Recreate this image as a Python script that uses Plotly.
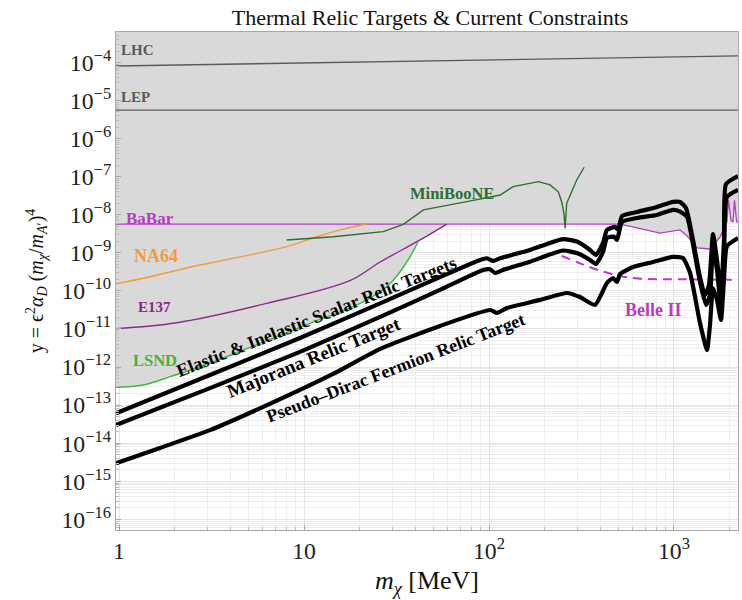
import plotly.graph_objects as go

# ---------------- thermal relic targets (m_chi in MeV) ----------------
scalar_m = [0.963, 3.10, 9.51, 25.8, 54.3, 89.4, 97.5, 105.1, 114.7, 166.6, 251, 303, 351.6, 378.7,
            413.3, 434, 480, 498, 524, 631, 809, 988, 1078, 1161, 1267, 1382, 1471, 1546, 1625,
            1708, 1795, 1863, 1910, 2218]
scalar_y = [6.1e-14, 6.2e-13, 5.8e-12, 4.7e-11, 2.3e-10, 6.5e-10, 7.2e-10, 6.1e-10, 7.2e-10, 1.19e-9,
            2.3e-9, 1.93e-9, 1.19e-9, 8.8e-10, 1.82e-9, 4.0e-9, 4.8e-9, 4.0e-9, 9.3e-9, 1.18e-8,
            1.6e-8, 2.17e-8, 2.17e-8, 1.51e-8, 2.18e-9, 2.3e-10, 7.8e-11, 1.43e-10, 3.1e-9, 6.5e-10,
            9.4e-11, 2.2e-9, 6.4e-8, 1.04e-7]

majorana_m = [0.963, 3.10, 9.51, 25.8, 54.3, 92.8, 101.3, 107.8, 119.0, 166.6, 251, 303, 351.6, 378.7,
              413.3, 434, 474, 492, 524, 631, 809, 988, 1078, 1176, 1283, 1382, 1489, 1565, 1625,
              1708, 1795, 1863, 1934, 2218]
majorana_y = [3.0e-14, 2.8e-13, 2.5e-12, 2.07e-11, 1.06e-10, 3.55e-10, 3.7e-10, 2.96e-10, 3.55e-10,
              5.86e-10, 1.15e-9, 9.6e-10, 6.5e-10, 5.1e-10, 1.05e-9, 2.45e-9, 2.66e-9, 2.18e-9,
              6.46e-9, 8.23e-9, 9.87e-9, 1.34e-8, 1.21e-8, 8.75e-9, 1.19e-9, 1.72e-10, 4.27e-11,
              7.8e-11, 1.34e-9, 3.55e-10, 3.56e-11, 3.55e-10, 2.93e-8, 4.48e-8]

pdirac_m = [0.963, 1.666, 3.10, 6.31, 14.35, 25.8, 54.3, 101.3, 110.5, 125.1, 188.7, 264, 310, 374,
            434, 468, 492, 511, 600, 770, 988, 1118, 1221, 1382, 1508, 1565, 1625, 1708, 1795,
            1863, 1934, 2218]
pdirac_y = [2.96e-15, 7.5e-15, 2.2e-14, 1.0e-13, 6.6e-13, 3.0e-12, 1.2e-11, 3.15e-11, 2.63e-11,
            3.56e-11, 5.8e-11, 8.8e-11, 6.9e-11, 4.3e-11, 1.61e-10, 2.18e-10, 1.72e-10, 2.78e-10,
            4.25e-10, 5.75e-10, 7.8e-10, 7.3e-10, 3.0e-10, 1.44e-11, 2.8e-12, 1.27e-11, 1.19e-10,
            5.8e-11, 1.72e-11, 1.94e-10, 1.51e-9, 2.45e-9]

# ---------------- current constraints ----------------
lhc_m = [0.9, 2500]
lhc_y = [8.0e-5, 1.5e-4]

lep_m = [0.9, 2500]
lep_y = [5.6e-6, 5.6e-6]

babar_m = [0.95, 511, 631, 840, 1077, 1175, 1332, 1566, 1774, 1887, 1933, 1972, 2033, 2084, 2124,
           2178, 2240]
babar_y = [5.7e-9, 5.7e-9, 4.5e-9, 3.3e-9, 4.0e-9, 2.8e-9, 1.34e-9, 1.26e-9, 2.6e-9, 5.4e-9, 6.5e-9,
           2.4e-8, 6.9e-9, 6.5e-9, 2.4e-8, 6.5e-9, 6.5e-9]

na64_m = [0.95, 1.47, 2.74, 5.1, 8.06, 11.7, 15.7, 21.8]
na64_y = [1.52e-10, 2.36e-10, 4.8e-10, 8.8e-10, 1.45e-9, 2.65e-9, 4.0e-9, 5.7e-9]

e137_m = [0.95, 2.05, 6.29, 17.7, 25.8, 42.4, 59.1]
e137_y = [1.02e-11, 1.46e-11, 4.7e-11, 1.86e-10, 5.75e-10, 2.18e-9, 5.7e-9]

lsnd_m = [0.95, 1.35, 1.89, 3.10, 5.78, 10.8, 20.1, 28.0, 33.0, 37.4, 41.3]
lsnd_y = [2.94e-13, 3.38e-13, 5.6e-13, 1.26e-12, 4.2e-12, 1.41e-11, 4.7e-11, 1.29e-10, 3.14e-10,
          7.8e-10, 1.93e-9]

miniboone_m = [8.06, 14.4, 26.8, 34.4, 44.2, 54.3, 75.8, 115, 135, 185, 214, 237, 247, 254, 258,
               263, 274, 298, 327]
miniboone_y = [2.18e-9, 2.65e-9, 3.6e-9, 5.6e-9, 1.34e-8, 1.6e-8, 2.21e-8, 3.3e-8, 5.5e-8, 7.4e-8,
               6.1e-8, 4.0e-8, 2.2e-8, 1.09e-8, 4.4e-9, 2.0e-8, 3.3e-8, 8.2e-8, 1.77e-7]

# projected reach
belle2_m = [247, 310, 398, 511, 655, 1077, 2240]
belle2_y = [8.3e-10, 5.3e-10, 3.4e-10, 2.47e-10, 2.1e-10, 2.02e-10, 1.94e-10]

SERIF = "Liberation Serif"
SHADE = "#d9d9d9"
MAGENTA = "#b63cc4"
CEILING = 1e-3

fig = go.Figure()


def excluded(m, y):
    """Grey region above a bound."""
    fig.add_trace(go.Scatter(
        x=list(m) + [m[-1], m[0]], y=list(y) + [CEILING, CEILING],
        mode="lines", fill="toself", fillcolor=SHADE, line=dict(width=0),
        hoverinfo="skip", showlegend=False))


for m, y in [(babar_m, babar_y), (na64_m, na64_y), (e137_m, e137_y),
             (lsnd_m, lsnd_y), (miniboone_m, miniboone_y)]:
    excluded(m, y)


def bound(m, y, color, width=1.4, dash="solid", shape="linear"):
    fig.add_trace(go.Scatter(
        x=m, y=y, mode="lines", showlegend=False, hoverinfo="skip",
        line=dict(color=color, width=width, dash=dash, shape=shape)))


bound(lhc_m, lhc_y, "#5a5a5a")
bound(lep_m, lep_y, "#5a5a5a")
bound(babar_m, babar_y, MAGENTA, 1.3)
bound(na64_m, na64_y, "#f39a3c", 1.4, shape="spline")
bound(e137_m, e137_y, "#8a2a8e", 1.4, shape="spline")
bound(lsnd_m, lsnd_y, "#3cb83c", 1.4, shape="spline")
bound(miniboone_m, miniboone_y, "#2f6e30", 1.4)
bound(belle2_m, belle2_y, MAGENTA, 2.0, dash="9px,6px", shape="spline")

for m, y in [(scalar_m, scalar_y), (majorana_m, majorana_y), (pdirac_m, pdirac_y)]:
    fig.add_trace(go.Scatter(
        x=m, y=y, mode="lines", showlegend=False, hoverinfo="skip",
        line=dict(color="black", width=4.2, shape="spline", smoothing=0.5)))

# plot-area pixel helpers (plot box spans x 116..738, y 32..530)
def px(x):
    return (x - 116) / 622


def py(y):
    return (530 - y) / 498


labels = [
    ("LHC", 119, 50, "#5a5a5a", "left", 15),
    ("LEP", 119, 97, "#5a5a5a", "left", 15),
    ("BaBar", 124, 218, MAGENTA, "left", 17),
    ("NA64", 132, 256, "#f39a3c", "left", 18),
    ("E137", 136, 307, "#8a2a8e", "left", 15),
    ("LSND", 131, 360, "#3cb83c", "left", 16.5),
    ("MiniBooNE", 452, 193, "#2f6e30", "center", 16.5),
    ("Belle II", 653, 310, MAGENTA, "center", 18),
]
for text, x, y, color, anchor, size in labels:
    fig.add_annotation(text=f"<b>{text}</b>", xref="paper", yref="paper", x=px(x), y=py(y),
                       xanchor=anchor, yanchor="middle", showarrow=False,
                       font=dict(family=SERIF, size=size, color=color))

curve_labels = [
    ("Elastic &amp; Inelastic Scalar Relic Targets", 316, 317, -21.5, 18),
    ("Majorana Relic Target", 313, 357, -22, 19),
    ("Pseudo\u2013Dirac Fermion Relic Target", 395, 368, -21, 18),
]
for text, x, y, ang, size in curve_labels:
    fig.add_annotation(text=f"<b>{text}</b>", xref="paper", yref="paper", x=px(x), y=py(y),
                       xanchor="center", yanchor="middle", textangle=ang, showarrow=False,
                       font=dict(family=SERIF, size=size, color="black"))

axis_common = dict(
    type="log", dtick=1, exponentformat="power",
    showline=True, mirror=True, linecolor="#a8a8a8", linewidth=1,
    ticks="inside", ticklen=5, tickcolor="#a8a8a8",
    showgrid=True, gridcolor="#e4e4e4", gridwidth=1, zeroline=False,
    tickfont=dict(family=SERIF, size=19, color="#222"),
    minor=dict(dtick="D1", showgrid=True, gridcolor="#eeeeee", ticks="inside",
               ticklen=3, tickcolor="#bbbbbb"),
)

fig.update_layout(
    width=742, height=600,
    margin=dict(l=116, r=4, t=32, b=70),
    paper_bgcolor="white", plot_bgcolor="white",
    font=dict(family=SERIF, color="#111"),
    title=dict(text="Thermal Relic Targets &amp; Current Constraints", xref="paper", x=0.505,
               xanchor="center", yref="container", y=1 - 17 / 600, yanchor="middle",
               font=dict(family=SERIF, size=22, color="#111")),
    xaxis=dict(axis_common, range=[-0.0164, 3.346],
               title=dict(text="<i>m</i><sub><i>\u03c7</i></sub> [MeV]", standoff=8,
                          font=dict(family=SERIF, size=26, color="#111"))),
    yaxis=dict(axis_common, range=[-16.28, -3.2],
               title=dict(text="y = \u03f5<sup>2</sup><i>\u03b1</i><sub><i>D</i></sub> "
                               "(<i>m</i><sub><i>\u03c7</i></sub>/<i>m</i><sub><i>A</i>\u2032</sub>)<sup>4</sup>",
                          standoff=12, font=dict(family=SERIF, size=20, color="#111"))),
)

fig.write_html("out.html")
